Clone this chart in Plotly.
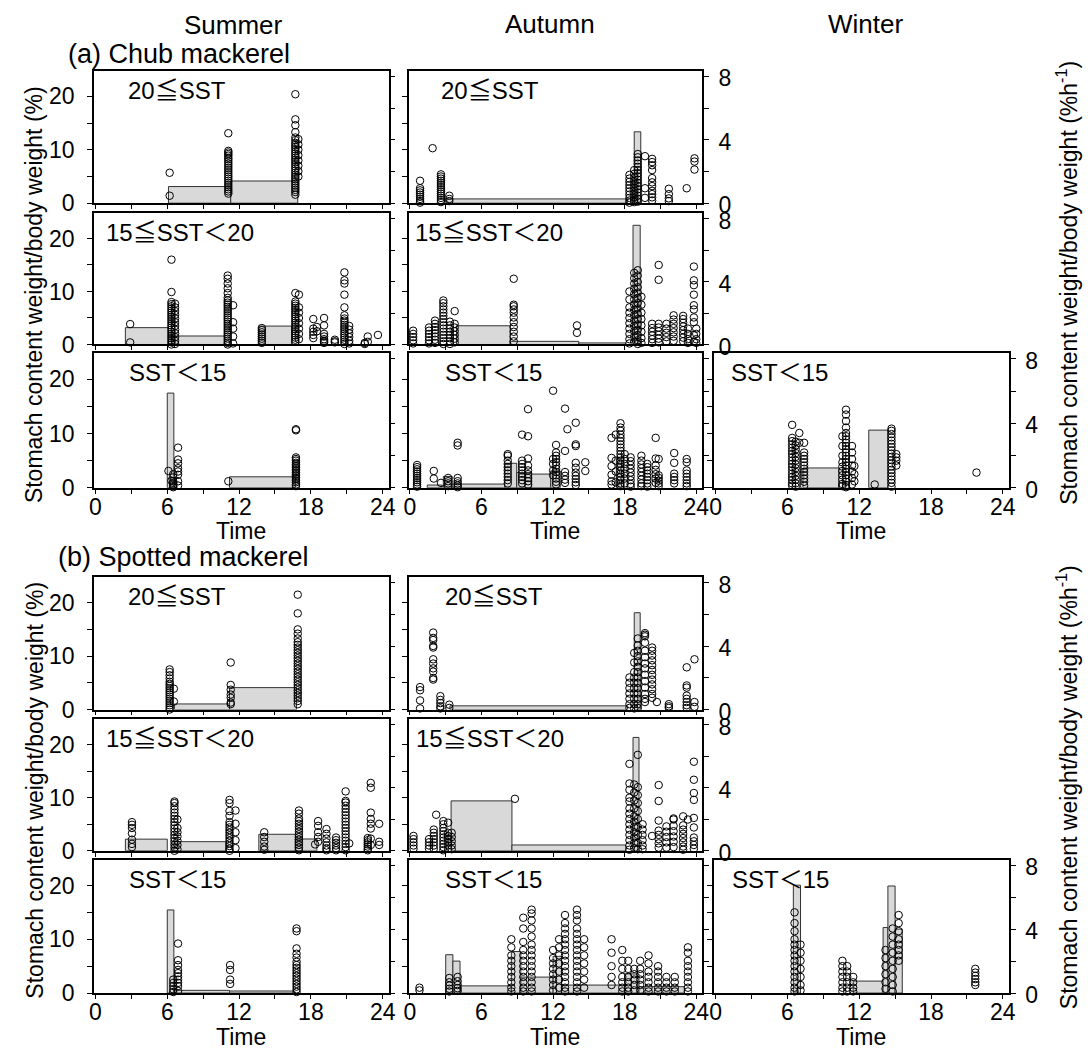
import plotly.graph_objects as go

W, H = 1088, 1064
FONT = "Liberation Sans, Arial, Helvetica, sans-serif"
CJK = "Liberation Sans, Noto Sans CJK JP, sans-serif"

# ---------------- DATA ----------------
# clusters: (time of day [h], [stomach content weight / body weight (%)])
# bars: (start h, end h, consumption rate (%/h))

# (a) Chub mackerel
A_SUM_20 = [
    (6.2, [5.7, 1.4]),
    (11.1, [13.1, 9.8, 9.5, 9.2, 8.9, 8.5, 8.2, 7.8, 7.4, 7.0, 6.6, 6.2, 5.8, 5.4, 5.0, 4.6, 4.2, 3.8, 3.4, 3.0, 2.6, 2.2, 1.8]),
    (16.7, [20.4, 15.7, 14.6, 13.3, 12.3, 11.8, 11.3, 10.9, 10.5, 10.1, 9.7, 9.3, 8.9, 8.5, 8.1, 7.7, 7.3, 6.9, 6.5, 6.1, 5.7, 5.3, 4.9, 4.5, 4.1, 3.7, 3.3, 2.9, 2.5, 2.1, 1.6]),
    (16.95, [12.0, 11.0, 10.0, 9.0, 8.0, 7.0, 6.0, 5.0]),
]
A_SUM_20_BARS = [(6.1, 11.3, 1.05), (11.3, 16.9, 1.4)]

A_AUT_20 = [
    (0.85, [4.2, 2.8, 2.4, 2.0, 1.6, 1.2, 0.8, 0.4, 0.1]),
    (1.9, [10.3]),
    (2.6, [5.4, 5.0, 4.6, 4.2, 3.8, 3.4, 3.0, 2.6, 2.2, 1.8, 1.4, 1.0, 0.6, 0.2]),
    (3.3, [1.4, 0.8, 0.4]),
    (18.4, [5.3, 4.6, 4.0, 3.4, 2.8, 2.2, 1.6, 1.0, 0.5, 0.1]),
    (18.8, [6.2, 5.5, 4.8, 4.1, 3.5, 2.9, 2.3, 1.7, 1.1, 0.6, 0.2]),
    (19.1, [9.2, 8.6, 8.0, 7.4, 6.8, 6.2, 5.6, 5.0, 4.4, 3.8, 3.2, 2.6, 2.0, 1.4, 0.8, 0.3]),
    (19.7, [8.8, 2.8, 1.0]),
    (20.3, [8.3, 7.7, 7.1, 6.2, 4.7, 3.9, 3.2, 2.3, 1.7, 1.1, 0.5]),
    (21.7, [2.7, 1.7, 0.9, 0.4]),
    (23.2, [2.8]),
    (23.85, [8.4, 7.8, 6.3]),
]
A_AUT_20_BARS = [(3.1, 18.25, 0.27), (18.8, 19.35, 4.5)]

A_SUM_15 = [
    (2.9, [3.85, 0.4]),
    (6.35, [16.0, 9.9, 8.0, 7.6, 7.2, 6.8, 6.4, 6.0, 5.6, 5.2, 4.8, 4.4, 4.0, 3.6, 3.2, 2.8, 2.4, 2.0, 1.6, 1.2, 0.8, 0.4, 0.0]),
    (6.65, [7.7, 7.0, 6.3, 5.6, 4.9, 4.2, 3.5, 2.8, 2.1, 1.4, 0.7, 0.1]),
    (11.05, [13.0, 12.4, 11.5, 10.6, 9.7, 8.8, 8.3, 7.9, 7.5, 7.1, 6.7, 6.3, 5.9, 5.5, 5.1, 4.7, 4.3, 3.9, 3.5, 3.1, 2.7, 2.3, 1.9, 1.5, 1.1, 0.7, 0.3, 0.0]),
    (11.5, [7.4, 4.2, 3.0, 1.5, 0.2]),
    (13.9, [3.1, 2.7, 2.3, 1.9, 1.5, 1.1, 0.7, 0.3]),
    (16.7, [9.7, 8.1, 7.7, 7.3, 6.9, 6.5, 6.1, 5.7, 5.3, 4.9, 4.5, 4.1, 3.7, 3.3, 2.9, 2.5, 2.1, 1.7, 1.3, 0.9, 0.5]),
    (17.0, [9.4, 7.0, 6.0, 5.0, 4.0, 3.0, 2.0, 1.0]),
    (18.2, [4.8, 3.0, 2.4, 1.8, 1.2]),
    (18.5, [3.3, 2.5]),
    (19.1, [5.0, 3.6, 2.0, 1.5, 1.0, 0.7, 0.5, 0.3]),
    (20.0, [0.9, 0.6, 0.4]),
    (20.8, [13.6, 12.1, 11.5, 9.4, 7.0, 5.5, 4.9, 4.5, 4.1, 3.7, 3.3, 2.9, 2.5, 2.1, 1.7, 1.3, 0.9, 0.5, 0.1]),
    (21.2, [3.5, 2.8, 2.1, 1.4, 0.7, 0.2]),
    (22.5, [0.3, 0.1]),
    (22.75, [1.5, 0.5]),
    (23.6, [1.8]),
]
A_SUM_15_BARS = [(2.5, 6.1, 1.07), (6.1, 10.8, 0.54), (13.65, 16.4, 1.17)]

A_AUT_15 = [
    (0.27, [2.6, 2.0, 1.4, 0.8, 0.2]),
    (1.6, [3.2, 2.6, 2.0, 1.4, 0.8, 0.2]),
    (2.1, [4.5, 3.9, 3.3, 2.7, 2.1, 1.5, 0.9, 0.3]),
    (2.8, [8.3, 7.8, 7.2, 6.6, 6.0, 5.4, 4.8, 4.2, 3.6, 3.0, 2.4, 1.8, 1.2, 0.6, 0.1]),
    (3.35, [4.3, 3.6, 3.0, 2.4, 1.8, 1.2, 0.6, 0.1]),
    (3.75, [6.3, 3.9, 3.2, 2.5, 1.8, 1.1, 0.4]),
    (8.7, [12.4, 7.5, 7.2, 6.6, 6.0, 5.1, 4.2, 3.3, 2.4, 1.5, 0.6]),
    (14.0, [3.6, 2.2]),
    (18.4, [10.0, 8.5, 7.0, 6.0, 5.0, 4.0, 3.0, 2.0, 1.0, 0.2]),
    (18.8, [13.5, 12.5, 11.5, 10.5, 9.5, 8.5, 7.5, 6.5, 5.5, 4.5, 3.5, 2.5, 1.5, 0.5]),
    (19.1, [14.0, 13.0, 11.8, 10.8, 9.8, 8.8, 7.8, 6.8, 5.8, 4.8, 3.8, 2.8, 1.8, 0.8, 0.1]),
    (19.4, [9.0, 7.5, 6.0, 4.8, 3.6, 2.4, 1.2, 0.3]),
    (20.3, [3.9, 3.1, 2.4, 1.7, 1.0, 0.3]),
    (20.85, [15.0, 12.2, 3.9, 3.2, 2.5, 1.8, 1.1, 0.4]),
    (21.5, [3.9, 3.0, 2.2, 1.4, 0.6]),
    (22.1, [5.5, 4.7, 3.9, 3.1, 2.3, 1.5, 0.7]),
    (22.9, [5.4, 4.8, 4.1, 3.4, 2.7, 2.0, 1.3, 0.6]),
    (23.3, [3.0, 2.0, 1.0, 0.3]),
    (23.8, [14.7, 12.1, 11.2, 9.4, 7.4, 6.6, 5.1, 4.2, 1.8, 0.5]),
    (24.0, [3.0, 2.0, 1.0, 0.3]),
]
A_AUT_15_BARS = [(3.9, 8.4, 1.19), (8.4, 14.15, 0.2), (14.15, 18.1, 0.1), (18.7, 19.3, 7.57)]

A_SUM_LT = [
    (6.1, [3.1]),
    (6.35, [1.3]),
    (6.5, [2.5, 1.9, 1.2, 0.9, 0.6, 0.3, 0.1]),
    (6.9, [7.4, 5.2, 4.5, 3.6, 3.0, 2.4, 1.2, 0.4]),
    (11.1, [1.2]),
    (16.75, [10.8, 10.6, 5.6, 5.3, 5.0, 4.6, 4.3, 4.0, 3.7, 3.4, 3.1, 2.8, 2.5, 2.2, 1.9, 1.6, 1.3, 1.0, 0.6, 0.3]),
]
A_SUM_LT_BARS = [(6.0, 6.55, 5.88), (11.2, 16.7, 0.68)]

A_AUT_LT = [
    (0.6, [4.2, 3.8, 3.4, 3.0, 2.6, 2.2, 1.8, 1.4, 1.0, 0.6, 0.2]),
    (2.0, [3.1, 1.7]),
    (2.6, [0.9]),
    (3.2, [1.8, 1.2, 0.8, 0.3]),
    (4.0, [8.3, 7.8, 1.8, 1.2, 0.8, 0.4, 0.1]),
    (8.2, [6.2, 5.9, 5.0, 4.4, 3.8, 3.2, 2.6, 2.0, 1.4, 0.8]),
    (9.4, [9.8, 5.0, 4.4, 3.8, 3.2, 2.6, 2.0, 1.4, 0.8]),
    (9.9, [14.5, 9.5, 5.4, 4.1, 3.2, 2.5, 1.8, 1.2, 0.6]),
    (12.0, [17.9, 5.3, 4.4, 3.2, 2.3]),
    (12.25, [7.9, 6.5, 5.9, 5.3, 4.7, 4.1, 3.5, 2.9, 2.3, 1.7, 1.1, 0.6]),
    (13.0, [14.6, 6.8, 2.9, 2.2, 1.5, 0.9]),
    (13.2, [10.8]),
    (13.9, [12.0, 8.0, 7.7, 4.6, 3.7, 2.8, 2.2, 1.6, 1.0, 0.5]),
    (14.7, [4.7, 3.1]),
    (16.9, [9.2, 5.5, 4.0, 2.4, 1.2, 0.6]),
    (17.25, [9.8, 5.0, 3.0, 1.0]),
    (17.65, [11.9, 11.1, 10.5, 9.8, 9.2, 8.6, 8.0, 7.4, 6.8, 6.2, 5.6, 5.0, 4.4, 3.8, 3.2, 2.6, 2.0, 1.4, 0.8, 0.3]),
    (18.0, [6.2, 5.3, 4.4, 3.5, 2.6, 1.7, 0.8]),
    (18.5, [5.6, 4.9, 4.2, 3.5, 2.8, 2.1, 1.4, 0.7, 0.2]),
    (19.4, [5.9, 5.0, 4.3, 3.6, 2.9, 2.2, 1.5, 0.8, 0.3]),
    (19.9, [4.4, 3.8, 3.2, 2.6, 2.0, 1.4, 0.8, 0.2]),
    (20.6, [9.2, 5.4, 4.1, 3.3, 2.5, 1.7, 0.9]),
    (20.85, [5.3, 2.3, 1.8, 1.3, 0.8, 0.3]),
    (22.15, [6.4, 4.6, 2.6, 2.0, 1.4, 0.8]),
    (23.2, [5.3, 4.7, 3.2, 2.6, 2.0, 1.4, 0.8, 0.3]),
]
A_AUT_LT_BARS = [(1.45, 2.7, 0.17), (2.8, 3.55, 0.7), (3.55, 7.95, 0.23), (7.95, 8.95, 1.52),
                 (8.95, 10.2, 0.95), (10.2, 11.8, 0.85), (11.8, 12.6, 1.05), (17.3, 17.9, 1.8)]

A_WIN_LT = [
    (6.4, [11.6, 9.2, 8.6, 8.0, 7.4, 6.8, 6.2, 5.6, 5.0, 4.4, 3.8, 3.2, 2.6, 2.0, 1.4, 0.8, 0.4]),
    (6.7, [8.5, 7.8, 7.1, 6.4, 5.7, 5.0, 4.3, 3.6, 2.9, 2.2, 1.5, 0.8, 0.2]),
    (7.0, [10.1, 8.3]),
    (7.4, [8.3, 6.5, 5.9, 5.3, 4.7, 4.1, 3.5, 2.9, 2.3, 1.7, 1.1, 0.4]),
    (10.6, [9.5, 7.7, 5.9, 4.7, 3.9, 3.1, 2.3, 1.5, 0.7, 0.3]),
    (10.9, [14.4, 13.5, 12.3, 11.1, 10.1, 9.5, 8.9, 8.3, 7.7, 7.1, 6.5, 5.9, 5.3, 4.7, 4.1, 3.5, 2.9, 2.3, 1.7, 1.1, 0.5, 0.1]),
    (11.4, [7.7, 6.5, 5.3, 4.1, 3.0, 1.8, 0.6]),
    (11.6, [4.0, 2.5, 1.2]),
    (13.3, [0.6]),
    (14.7, [10.9, 10.5, 9.9, 9.3, 8.7, 8.1, 7.5, 6.9, 6.3, 5.7, 5.1, 4.5, 3.9, 3.3, 2.7, 2.1, 1.5, 0.9, 0.2]),
    (15.1, [6.2, 5.6, 5.0, 4.1]),
    (21.8, [2.8]),
]
A_WIN_LT_BARS = [(7.3, 10.3, 1.23), (12.8, 14.4, 3.58)]

# (b) Spotted mackerel
B_SUM_20 = [
    (6.2, [7.5, 7.0, 6.4, 5.8, 5.2, 4.8, 4.4, 4.0, 3.6, 3.2, 2.8, 2.4, 2.0, 1.6, 1.2, 0.8, 0.4, 0.0]),
    (6.55, [3.9, 1.5]),
    (11.3, [8.8, 4.6, 3.7, 2.8, 2.2, 1.3, 1.0]),
    (16.9, [21.5, 18.0, 15.0, 14.2, 13.3, 12.6, 12.1, 11.6, 11.1, 10.6, 10.1, 9.6, 9.1, 8.6, 8.1, 7.6, 7.1, 6.6, 6.1, 5.6, 5.1, 4.6, 4.1, 3.6, 3.1, 2.6, 2.1, 1.6, 1.0]),
]
B_SUM_20_BARS = [(6.6, 11.2, 0.35), (11.2, 16.8, 1.38)]

B_AUT_20 = [
    (0.85, [4.2, 3.6, 1.7, 0.2]),
    (1.95, [14.4, 13.4, 13.0, 11.9, 11.6, 9.4, 8.6, 7.7, 7.1, 5.9, 5.6]),
    (2.55, [2.5, 1.8, 1.2, 0.6, 0.2]),
    (3.3, [0.9, 0.3]),
    (18.4, [6.0, 5.0, 4.0, 3.0, 2.0, 1.0, 0.3]),
    (18.8, [10.6, 8.8, 7.0, 6.0, 5.0, 4.0, 3.0, 2.0, 1.0, 0.2]),
    (19.1, [13.3, 12.0, 11.0, 10.0, 9.0, 8.0, 7.0, 6.0, 5.0, 4.0, 3.0, 2.0, 1.0, 0.3]),
    (19.7, [14.3, 14.0, 13.7, 12.5, 11.0, 9.8, 8.6, 7.7, 6.5, 5.3, 4.1, 2.9, 2.0, 1.4]),
    (20.3, [11.6, 11.0, 10.1, 9.2, 8.3, 7.4, 6.5, 5.6, 4.7, 3.8, 2.9, 2.2]),
    (20.7, [1.4]),
    (21.7, [1.0, 0.6, 0.3]),
    (23.2, [7.9, 4.5, 4.1, 2.6, 2.0, 1.4, 0.8, 0.3]),
    (23.85, [9.4, 1.4, 0.5]),
]
B_AUT_20_BARS = [(3.35, 18.25, 0.23), (18.8, 19.3, 6.1)]

B_SUM_15 = [
    (3.05, [5.4, 4.9, 4.3, 3.3, 2.1, 1.3, 0.7]),
    (6.6, [9.3, 9.0, 8.4, 7.8, 7.2, 6.6, 6.0, 5.4, 4.8, 4.2, 3.6, 3.0, 2.4, 1.8, 1.2, 0.6, 0.0]),
    (6.85, [5.9, 4.3, 3.5, 2.7, 1.9, 1.1, 0.3]),
    (11.2, [9.6, 9.0, 7.5, 6.6, 5.4, 4.9, 4.4, 3.9, 3.4, 2.9, 2.4, 1.9, 1.4, 0.9, 0.4, 0.0]),
    (11.7, [7.6, 5.1, 3.5, 2.0, 0.5]),
    (14.1, [3.5, 2.6, 1.7, 0.8, 0.2]),
    (17.0, [7.6, 7.0, 6.1, 5.6, 5.1, 4.6, 4.1, 3.6, 3.1, 2.6, 2.1, 1.6, 1.1, 0.6, 0.1]),
    (18.35, [1.2]),
    (18.6, [5.6, 4.7, 3.5, 2.6, 1.7]),
    (19.3, [4.1, 3.2, 2.3, 1.6, 1.0, 0.5, 0.1]),
    (20.1, [2.5, 2.0, 1.5, 1.0, 0.5, 0.1]),
    (20.9, [11.2, 9.4, 9.1, 8.5, 7.9, 7.3, 6.7, 6.1, 5.5, 4.9, 4.3, 3.7, 3.1, 2.5, 1.9, 1.3, 0.7, 0.1]),
    (21.2, [1.4]),
    (22.75, [2.4, 2.0, 1.6, 1.2, 0.8, 0.4, 0.1]),
    (23.0, [12.8, 11.9, 7.2, 6.0, 5.1, 4.2, 2.3, 1.1]),
    (23.7, [5.1, 1.7, 1.1]),
]
B_SUM_15_BARS = [(2.5, 6.0, 0.74), (6.4, 10.9, 0.58), (13.65, 16.7, 1.05), (16.7, 18.5, 0.75)]

B_AUT_15 = [
    (0.3, [2.8, 2.2, 1.6, 1.0, 0.4]),
    (1.6, [2.2, 1.6, 1.0, 0.4]),
    (2.0, [4.0, 3.4, 2.8, 2.2, 1.6, 1.0, 0.4]),
    (2.2, [6.8]),
    (2.8, [5.6, 5.0, 4.3, 3.7, 3.1, 2.5, 1.9, 1.3, 0.7, 0.1]),
    (3.2, [5.3, 3.4, 2.8, 2.2, 1.6, 1.0, 0.4]),
    (3.5, [3.4, 2.6, 1.8, 1.0, 0.3]),
    (8.8, [9.8]),
    (18.4, [16.4, 12.7, 11.5, 10.0, 9.3, 8.0, 7.0, 6.0, 5.0, 4.0, 3.0, 2.0, 1.0, 0.2]),
    (18.8, [12.5, 11.0, 9.5, 8.0, 6.5, 5.5, 4.5, 3.5, 2.5, 1.5, 0.5]),
    (19.1, [18.1, 12.0, 10.5, 9.0, 7.5, 6.0, 4.5, 3.0, 1.5, 0.3]),
    (19.5, [5.0, 4.0, 3.0, 2.0, 1.0, 0.3]),
    (20.3, [2.8]),
    (20.85, [12.4, 9.4, 5.7, 3.8, 3.0, 2.2, 1.4, 0.6]),
    (21.5, [4.6, 3.6, 2.6, 1.6, 0.6]),
    (22.1, [6.1, 5.9, 4.7, 3.7, 2.7, 1.7, 0.7]),
    (22.9, [6.5, 4.8, 4.0, 3.2, 2.4, 1.6, 0.8, 0.2]),
    (23.3, [5.9]),
    (23.8, [16.8, 13.4, 10.9, 9.6, 6.2, 4.4, 2.5, 1.8, 1.1, 0.4]),
]
B_AUT_15_BARS = [(3.45, 8.55, 3.17), (8.55, 18.1, 0.37), (18.7, 19.2, 7.2)]

B_SUM_LT = [
    (6.5, [2.5, 1.9, 1.3, 0.7, 0.2]),
    (6.9, [9.2, 6.1, 5.2, 4.3, 3.7, 3.1, 2.5, 1.9, 1.3, 0.4]),
    (11.25, [5.2, 4.3, 2.5, 1.7]),
    (16.8, [12.0, 11.5, 8.3, 7.3, 6.6, 5.8, 5.2, 4.7, 4.2, 3.7, 3.2, 2.7, 2.2, 1.7, 1.2, 0.7, 0.2]),
]
B_SUM_LT_BARS = [(6.0, 6.55, 5.2), (6.55, 11.2, 0.17), (11.2, 16.65, 0.13)]

B_AUT_LT = [
    (0.8, [1.0, 0.5]),
    (3.3, [2.8, 2.0, 1.4, 0.8, 0.3]),
    (4.0, [3.0, 2.2, 1.5, 0.9, 0.4]),
    (8.5, [10.0, 8.5, 7.0, 6.0, 5.0, 4.0, 3.0, 2.0, 1.0, 0.3]),
    (9.5, [14.0, 12.0, 9.5, 8.0, 7.0, 6.0, 5.0, 4.0, 3.0, 2.0, 1.0, 0.3]),
    (10.2, [15.5, 14.8, 13.5, 12.0, 10.5, 9.0, 8.0, 7.0, 6.0, 5.0, 4.0, 3.0, 2.0, 1.0, 0.3]),
    (12.0, [8.0, 6.5, 5.5, 4.5, 3.5, 2.5, 1.5, 0.5]),
    (12.5, [10.0, 8.5, 7.0, 5.5, 4.0, 2.5, 1.0]),
    (13.0, [14.5, 13.0, 12.0, 11.0, 10.0, 9.0, 8.0, 7.0, 6.0, 5.0, 4.0, 3.0, 2.0, 1.0, 0.3]),
    (14.0, [15.5, 14.5, 13.5, 12.0, 11.0, 10.0, 9.0, 8.0, 7.0, 6.0, 5.0, 4.0, 3.0, 2.0, 1.0, 0.3]),
    (14.6, [10.0, 8.5, 7.0, 5.5, 4.0, 2.5, 1.0]),
    (16.9, [10.0, 7.5, 5.0, 3.0, 1.5]),
    (17.8, [8.0, 6.0, 4.5, 3.0, 2.0, 1.0, 0.3]),
    (18.3, [6.0, 4.5, 3.0, 2.0, 1.0, 0.3]),
    (18.8, [4.5, 3.5, 2.5, 1.5, 0.5]),
    (19.3, [6.0, 4.5, 3.5, 2.5, 1.5, 0.5]),
    (20.0, [7.0, 5.5, 4.0, 3.0, 2.0, 1.0, 0.3]),
    (20.8, [5.0, 4.0, 3.0, 2.0, 1.0, 0.3]),
    (21.5, [3.0, 2.0, 1.0, 0.3]),
    (22.2, [3.0, 2.0, 1.0, 0.3]),
    (23.3, [8.5, 7.5, 6.0, 5.0, 4.0, 3.0, 2.0, 1.0, 0.3]),
]
B_AUT_LT_BARS = [(3.0, 3.6, 2.4), (3.6, 4.2, 2.0), (4.2, 8.5, 0.45), (8.5, 9.3, 2.6), (9.3, 12.0, 1.0),
                 (12.0, 12.7, 2.3), (12.7, 18.0, 0.5), (18.0, 19.2, 1.2), (19.2, 23.0, 0.4)]

B_WIN_LT = [
    (6.6, [15.0, 13.0, 11.5, 10.0, 9.0, 8.0, 7.0, 6.0, 5.0, 4.0, 3.0, 2.0, 1.0, 0.3]),
    (7.1, [9.0, 7.5, 6.0, 4.5, 3.0, 1.5, 0.5]),
    (10.6, [6.0, 5.0, 4.0, 3.0, 2.0, 1.0, 0.3]),
    (11.0, [5.0, 4.0, 3.0, 2.0, 1.0, 0.3]),
    (11.5, [3.0, 2.0, 1.0, 0.3]),
    (14.2, [8.0, 6.5, 5.0, 3.5, 2.0, 0.8]),
    (14.8, [12.0, 10.5, 9.0, 7.5, 6.0, 4.5, 3.0, 1.5, 0.3]),
    (15.3, [14.5, 13.0, 11.5, 10.0, 9.0, 8.0, 7.0, 6.0]),
    (21.7, [4.5, 3.8, 3.2, 2.6, 2.0, 1.5]),
]
B_WIN_LT_BARS = [(6.5, 7.1, 6.75), (11.5, 14.0, 0.75), (14.0, 14.4, 4.1), (14.4, 15.0, 6.7), (15.0, 15.6, 4.0)]

X_TICKS = [0, 3, 6, 9, 12, 15, 18, 21, 24]
X_LABELS = ["0", "", "6", "", "12", "", "18", "", "24"]
YL_TICKS = [0, 5, 10, 15, 20]
YL_LABELS = ["0", "", "10", "", "20"]
YR_TICKS = [0, 2, 4, 6, 8]
YR_LABELS = ["0", "", "4", "", "8"]

LABEL_20 = "20≦SST"
LABEL_15 = "15≦SST＜20"
LABEL_LT = "SST＜15"

# ---------------- LAYOUT GEOMETRY (pixels) ----------------
COL_PX = {"S": (90, 388), "A": (408, 705), "W": (717, 1015)}
ROW_PX = {"a1": (67, 202), "a2": (212, 346), "a3": (355, 492),
          "b1": (583, 718), "b2": (728, 862), "b3": (871, 1007)}

PANELS = [
    ("a1", "S", A_SUM_20, A_SUM_20_BARS, LABEL_20, 32),
    ("a1", "A", A_AUT_20, A_AUT_20_BARS, LABEL_20, 31),
    ("a2", "S", A_SUM_15, A_SUM_15_BARS, LABEL_15, 10),
    ("a2", "A", A_AUT_15, A_AUT_15_BARS, LABEL_15, 5),
    ("a3", "S", A_SUM_LT, A_SUM_LT_BARS, LABEL_LT, 33),
    ("a3", "A", A_AUT_LT, A_AUT_LT_BARS, LABEL_LT, 35),
    ("a3", "W", A_WIN_LT, A_WIN_LT_BARS, LABEL_LT, 15),
    ("b1", "S", B_SUM_20, B_SUM_20_BARS, LABEL_20, 32),
    ("b1", "A", B_AUT_20, B_AUT_20_BARS, LABEL_20, 35),
    ("b2", "S", B_SUM_15, B_SUM_15_BARS, LABEL_15, 10),
    ("b2", "A", B_AUT_15, B_AUT_15_BARS, LABEL_15, 6),
    ("b3", "S", B_SUM_LT, B_SUM_LT_BARS, LABEL_LT, 33),
    ("b3", "A", B_AUT_LT, B_AUT_LT_BARS, LABEL_LT, 35),
    ("b3", "W", B_WIN_LT, B_WIN_LT_BARS, LABEL_LT, 16),
]


def xp(px):
    return px / W


def yp(py):
    return 1 - py / H


def expand(clusters):
    t, v = [], []
    for time, vals in clusters:
        for val in vals:
            t.append(time)
            v.append(val)
    return t, v


fig = go.Figure()
layout = dict(
    width=W, height=H, margin=dict(l=0, r=0, t=0, b=0),
    paper_bgcolor="white", plot_bgcolor="white", showlegend=False,
    barmode="overlay", font=dict(family=FONT, size=23, color="black"),
)
annotations = []
tickfont = dict(family=FONT, size=23, color="black")

for i, (row, col, pts, bars, label, ldx) in enumerate(PANELS, start=1):
    x0, x1 = COL_PX[col]
    top, bot = ROW_PX[row]
    xa = "x%d" % i
    yb = "y%d" % (2 * i - 1)   # right axis (rate, bars) - base
    yo = "y%d" % (2 * i)       # left axis (stomach content, points) - overlay
    row3 = row.endswith("3")
    left_lab = col == "S"
    right_lab = (col == "A" and not row3) or col == "W"

    layout["xaxis%d" % i] = dict(
        domain=[xp(x0), xp(x1)], anchor=yb, range=[-0.12, 24.5],
        tickvals=X_TICKS, ticktext=X_LABELS if row3 else [""] * len(X_TICKS),
        ticks="outside", ticklen=4, tickwidth=1, tickcolor="black",
        showline=True, linecolor="black", linewidth=1.5, mirror=True,
        showgrid=False, zeroline=False, tickfont=tickfont, fixedrange=True,
        ticklabelstandoff=-6,
    )
    layout["yaxis%d" % (2 * i - 1)] = dict(
        domain=[yp(bot), yp(top)], anchor=xa, side="right", range=[0, 8.35],
        tickvals=YR_TICKS, ticktext=YR_LABELS if right_lab else [""] * 5,
        ticks="outside", ticklen=5, tickwidth=1, tickcolor="black",
        showline=True, linecolor="black", linewidth=1.5,
        showgrid=False, zeroline=False, tickfont=tickfont, ticklabelstandoff=5,
        ticklabelshift=2,
    )
    layout["yaxis%d" % (2 * i)] = dict(
        overlaying=yb, anchor=xa, side="left", range=[0, 24.8],
        tickvals=YL_TICKS, ticktext=YL_LABELS if left_lab else [""] * 5,
        ticks="outside", ticklen=5, tickwidth=1, tickcolor="black",
        showline=True, linecolor="black", linewidth=1.5,
        showgrid=False, zeroline=False, tickfont=tickfont, ticklabelstandoff=8,
    )

    bx = [(a + b) / 2 for a, b, h in bars]
    bw = [b - a for a, b, h in bars]
    bh = [h for a, b, h in bars]
    fig.add_trace(go.Bar(
        x=bx, y=bh, width=bw, xaxis=xa, yaxis=yb,
        marker=dict(color="#d9d9d9", line=dict(color="#333333", width=1)),
        hoverinfo="skip",
    ))
    t, v = expand(pts)
    fig.add_trace(go.Scatter(
        x=t, y=v, mode="markers", xaxis=xa, yaxis=yo, cliponaxis=False,
        marker=dict(symbol="circle-open", size=7.5, color="black", line=dict(width=1)),
        hoverinfo="skip",
    ))

    annotations.append(dict(
        text=label, x=xp(x0 + ldx), y=yp(top + 20), xref="paper", yref="paper",
        xanchor="left", yanchor="middle", showarrow=False,
        font=dict(family=CJK, size=24, color="black"),
    ))

# headers
for txt, cx, cy in [("Summer", 231, 20), ("Autumn", 551, 19), ("Winter", 870, 19)]:
    annotations.append(dict(text=txt, x=xp(cx), y=yp(cy), xref="paper", yref="paper",
                            xanchor="center", yanchor="middle", showarrow=False,
                            font=dict(family=FONT, size=26, color="black")))
for txt, lx, cy in [("(a) Chub mackerel", 62, 50), ("(b) Spotted mackerel", 52, 563)]:
    annotations.append(dict(text=txt, x=xp(lx), y=yp(cy), xref="paper", yref="paper",
                            xanchor="left", yanchor="middle", showarrow=False,
                            font=dict(family=FONT, size=27, color="black")))
# Time labels
for cy in (536, 1052):
    for col in ("S", "A", "W"):
        x0, x1 = COL_PX[col]
        annotations.append(dict(text="Time", x=xp((x0 + x1) / 2), y=yp(cy), xref="paper", yref="paper",
                                xanchor="center", yanchor="middle", showarrow=False,
                                font=dict(family=FONT, size=23, color="black")))
# rotated axis titles
for cy in (295, 800):
    annotations.append(dict(text="Stomach content weight/body weight (%)", x=xp(30), y=yp(cy),
                            xref="paper", yref="paper", xanchor="center", yanchor="middle",
                            textangle=-90, showarrow=False,
                            font=dict(family=FONT, size=23, color="black")))
for cy in (283, 797):
    annotations.append(dict(text="Stomach content weight/body weight (%h<sup>-1</sup>)", x=xp(1074), y=yp(cy),
                            xref="paper", yref="paper", xanchor="center", yanchor="middle",
                            textangle=-90, showarrow=False,
                            font=dict(family=FONT, size=23, color="black")))

layout["annotations"] = annotations
fig.update_layout(**layout)

fig.write_html("out.html", config={"displayModeBar": False},
               post_script="document.body.style.margin='0px';document.body.style.overflow='hidden';")
